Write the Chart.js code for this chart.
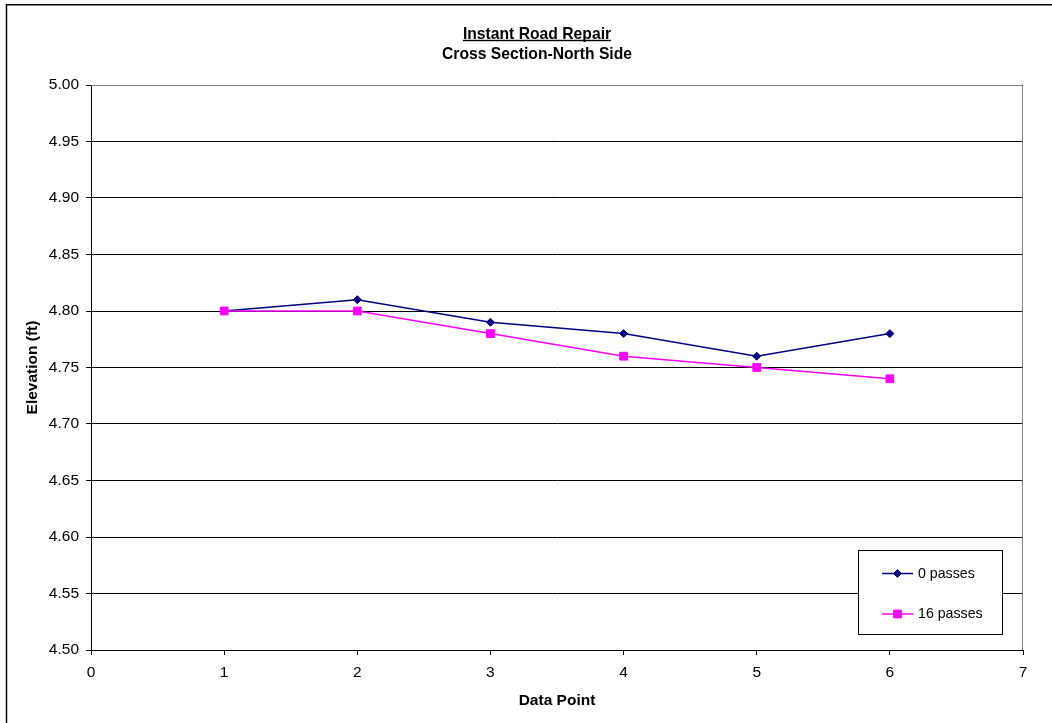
<!DOCTYPE html>
<html>
<head>
<meta charset="utf-8">
<script src="https://cdn.jsdelivr.net/npm/chart.js@4/dist/chart.umd.min.js"></script>
<style>
  html, body { margin: 0; padding: 0; background: #ffffff; }
  #wrap { width: 1052px; height: 723px; }
</style>
</head>
<body>
<div id="wrap"><canvas id="chart" width="1052" height="723"></canvas></div>
<script>
// Survey readings across the north-side cross section
const dataPoints = [1, 2, 3, 4, 5, 6];
const elevation0Passes = [4.80, 4.81, 4.79, 4.78, 4.76, 4.78];
const elevation16Passes = [4.80, 4.80, 4.78, 4.76, 4.75, 4.74];
const seriesLabels = ['0 passes', '16 passes'];
const titleLines = ['Instant Road Repair', 'Cross Section-North Side'];
const xAxisTitle = 'Data Point';
const yAxisTitle = 'Elevation (ft)';
const xRange = [0, 7];
const yRange = [4.5, 5.0];
const yStep = 0.05;

const FONT = '"Liberation Sans", Arial, sans-serif';

function toPoints(xs, ys) {
  return xs.map((x, i) => ({ x: x, y: ys[i] }));
}

// Outer frame, centred two-line title (first line underlined), plot border and legend
const decorations = {
  id: 'decorations',
  beforeDraw(chart) {
    const ctx = chart.ctx;
    ctx.save();
    ctx.fillStyle = '#ffffff';
    ctx.fillRect(0, 0, chart.width, chart.height);
    ctx.strokeStyle = '#000000';
    ctx.lineWidth = 1.5;
    ctx.beginPath();
    ctx.moveTo(6.5, chart.height + 10);
    ctx.lineTo(6.5, 4.7);
    ctx.lineTo(chart.width + 10, 4.7);
    ctx.stroke();
    ctx.restore();
  },
  beforeDatasetsDraw(chart) {
    const ctx = chart.ctx;
    const a = chart.chartArea;
    ctx.save();
    ctx.strokeStyle = '#808080';
    ctx.lineWidth = 1;
    ctx.beginPath();
    ctx.moveTo(a.left, a.top + 0.5);
    ctx.lineTo(a.right - 0.5, a.top + 0.5);
    ctx.lineTo(a.right - 0.5, a.bottom);
    ctx.stroke();
    ctx.restore();
  },
  afterDraw(chart) {
    const ctx = chart.ctx;
    ctx.save();
    // title
    const cx = 537;
    ctx.fillStyle = '#000000';
    ctx.font = 'bold 15.7px ' + FONT;
    ctx.textAlign = 'center';
    ctx.textBaseline = 'alphabetic';
    ctx.fillText(titleLines[0], cx, 38.5);
    ctx.fillText(titleLines[1], cx, 58.5);
    const w = ctx.measureText(titleLines[0]).width;
    ctx.fillRect(cx - w / 2, 39.8, w, 1.4);

    // legend
    const box = { x: 858.5, y: 550.5, w: 144, h: 84 };
    ctx.fillStyle = '#ffffff';
    ctx.fillRect(box.x, box.y, box.w, box.h);
    ctx.strokeStyle = '#000000';
    ctx.lineWidth = 1;
    ctx.strokeRect(box.x, box.y, box.w, box.h);
    const rows = [573.5, 614];
    chart.data.datasets.forEach((ds, i) => {
      const y = rows[i];
      ctx.strokeStyle = ds.borderColor;
      ctx.lineWidth = ds.borderWidth;
      ctx.beginPath();
      ctx.moveTo(882, y);
      ctx.lineTo(913, y);
      ctx.stroke();
      ctx.fillStyle = ds.pointBackgroundColor;
      ctx.strokeStyle = ds.pointBorderColor;
      ctx.lineWidth = 1;
      Chart.helpers.drawPoint(ctx, {
        pointStyle: ds.pointStyle,
        radius: ds.pointRadius,
        borderWidth: 1,
        rotation: 0
      }, 897.5, y);
      ctx.fillStyle = '#000000';
      ctx.font = '14.2px ' + FONT;
      ctx.textAlign = 'left';
      ctx.textBaseline = 'middle';
      ctx.fillText(ds.label, 918, y + 0.5);
    });
    ctx.restore();
  }
};

new Chart(document.getElementById('chart'), {
  type: 'scatter',
  data: {
    datasets: [
      {
        label: seriesLabels[0],
        data: toPoints(dataPoints, elevation0Passes),
        order: 1,
        showLine: true,
        borderColor: '#000080',
        backgroundColor: '#000080',
        borderWidth: 1.5,
        pointStyle: 'rectRot',
        pointRadius: 4,
        pointHoverRadius: 4,
        pointBackgroundColor: '#000080',
        pointBorderColor: '#000080',
        pointBorderWidth: 1
      },
      {
        label: seriesLabels[1],
        data: toPoints(dataPoints, elevation16Passes),
        order: 0,
        showLine: true,
        borderColor: '#ff00ff',
        backgroundColor: '#ff00ff',
        borderWidth: 1.5,
        pointStyle: 'rect',
        pointRadius: 5.5,
        pointHoverRadius: 5.5,
        pointBackgroundColor: '#ff00ff',
        pointBorderColor: '#ff00ff',
        pointBorderWidth: 1
      }
    ]
  },
  options: {
    responsive: false,
    animation: false,
    events: [],
    layout: { padding: { left: 0, top: 85, right: 29, bottom: 0 } },
    plugins: {
      legend: { display: false },
      title: { display: false },
      tooltip: { enabled: false }
    },
    scales: {
      x: {
        type: 'linear',
        min: xRange[0],
        max: xRange[1],
        afterFit(scale) { scale.height = 73; },
        ticks: {
          stepSize: 1,
          color: '#000000',
          padding: 8,
          font: { family: FONT, size: 15.5 },
          callback: (v) => String(v)
        },
        grid: {
          drawOnChartArea: false,
          drawTicks: true,
          tickLength: 5,
          color: '#000000'
        },
        border: { display: true, color: '#000000', width: 1 },
        title: {
          display: true,
          text: xAxisTitle,
          color: '#000000',
          font: { family: FONT, size: 15.5, weight: 'bold' },
          padding: { top: 0, bottom: 13 }
        }
      },
      y: {
        type: 'linear',
        min: yRange[0],
        max: yRange[1],
        afterFit(scale) { scale.width = 91; },
        afterBuildTicks(scale) {
          const ticks = [];
          const n = Math.round((yRange[1] - yRange[0]) / yStep);
          for (let i = 0; i <= n; i++) {
            ticks.push({ value: +(yRange[0] + i * yStep).toFixed(2) });
          }
          scale.ticks = ticks;
        },
        ticks: {
          color: '#000000',
          padding: 7,
          font: { family: FONT, size: 15.5 },
          callback: (v) => Number(v).toFixed(2)
        },
        grid: {
          drawOnChartArea: true,
          drawTicks: true,
          tickLength: 5,
          color: '#000000',
          lineWidth: 1
        },
        border: { display: true, color: '#000000', width: 1 },
        title: {
          display: true,
          text: yAxisTitle,
          color: '#000000',
          font: { family: FONT, size: 15.5, weight: 'bold' },
          padding: { top: 23, bottom: 0 }
        }
      }
    }
  },
  plugins: [decorations]
});
</script>
</body>
</html>
